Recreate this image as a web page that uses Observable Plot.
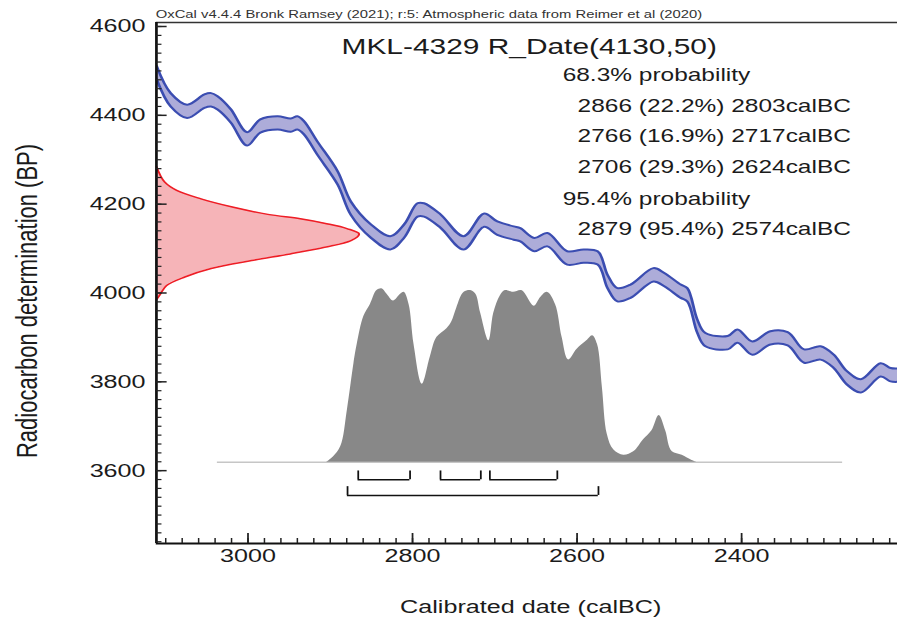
<!DOCTYPE html>
<html>
<head>
<meta charset="utf-8">
<script src="https://cdn.jsdelivr.net/npm/d3@7"></script>
<script src="https://cdn.jsdelivr.net/npm/@observablehq/plot@0.6"></script>
<style>
  html, body { margin: 0; padding: 0; background: #fff; overflow: hidden; }
  #chart svg { display: block; transform: scaleX(1.35909); transform-origin: 0 0; }
</style>
</head>
<body>
<div id="chart"></div>
<script>
// ---------- data ----------
// calibration curve (IntCal20) centre, calBC year vs BP
const calYear = [3111, 3094, 3074, 3053, 3045, 3037, 3021, 3001, 2985, 2964, 2948, 2940, 2932, 2916, 2891, 2875, 2851, 2827, 2810, 2794, 2786, 2766, 2738, 2713, 2697, 2677, 2669, 2652, 2636, 2612, 2592, 2575, 2563, 2551, 2535, 2507, 2494, 2474, 2466, 2454, 2444, 2417, 2405, 2387, 2365, 2344, 2324, 2304, 2288, 2272, 2255, 2231, 2219, 2210];
const calBP   = [4496, 4435, 4409, 4432, 4435, 4428, 4399, 4347, 4376, 4383, 4378, 4383, 4372, 4327, 4259, 4191, 4140, 4113, 4140, 4187, 4187, 4162, 4113, 4164, 4146, 4135, 4131, 4109, 4120, 4079, 4083, 4079, 4026, 3996, 4004, 4041, 4030, 4004, 3996, 3926, 3895, 3888, 3903, 3876, 3899, 3897, 3858, 3865, 3846, 3809, 3791, 3827, 3816, 3815];
const calSigma = 15;

// radiocarbon date R_Date(4130,50): BP vs relative probability
const rdBP   = [4285, 4250, 4231, 4212, 4193, 4177, 4167, 4156, 4145, 4133, 4118, 4103, 4088, 4073, 4055, 4036, 4017, 3998, 3985];
const rdProb = [0, 0.04, 0.10, 0.22, 0.38, 0.55, 0.71, 0.84, 0.94, 1.0, 0.96, 0.83, 0.66, 0.47, 0.27, 0.14, 0.05, 0.02, 0];

// calibrated distribution: calBC year vs relative probability
const postYear = [2904, 2896, 2887, 2879, 2871, 2867, 2859, 2851, 2843, 2837, 2831, 2823, 2814, 2810, 2804, 2798, 2788, 2778, 2770, 2758, 2752, 2746, 2737, 2729, 2723, 2717, 2707, 2701, 2693, 2687, 2677, 2667, 2652, 2644, 2636, 2626, 2618, 2610, 2600, 2588, 2581, 2575, 2569, 2563, 2555, 2543, 2531, 2519, 2509, 2500, 2492, 2484, 2472, 2460, 2454];
const postProb = [0, 0.03, 0.09, 0.30, 0.57, 0.68, 0.84, 0.91, 0.99, 1.0, 0.97, 0.93, 0.97, 0.98, 0.91, 0.68, 0.45, 0.61, 0.72, 0.77, 0.81, 0.89, 0.98, 0.99, 0.97, 0.86, 0.70, 0.86, 0.96, 0.99, 0.98, 0.99, 0.90, 0.95, 0.98, 0.91, 0.72, 0.59, 0.65, 0.70, 0.73, 0.68, 0.43, 0.16, 0.07, 0.04, 0.06, 0.13, 0.18, 0.27, 0.18, 0.06, 0.04, 0.01, 0];
const postRange = [3037, 2277];

// highest probability ranges
const ranges68 = [[2866, 2803], [2766, 2717], [2706, 2624]];
const ranges95 = [[2879, 2574]];

// ticks
const xMajor = [3000, 2800, 2600, 2400];
const yMajor = [3600, 3800, 4000, 4200, 4400, 4600];

// texts
const headerText = "OxCal v4.4.4 Bronk Ramsey (2021); r:5: Atmospheric data from Reimer et al (2020)";
const titleText = "MKL-4329 R_Date(4130,50)";
const statLines = ["68.3% probability", "2866 (22.2%) 2803calBC", "2766 (16.9%) 2717calBC", "2706 (29.3%) 2624calBC", "95.4% probability", "2879 (95.4%) 2574calBC"];
const statIndent = [false, true, true, true, false, true];
const xLabel = "Calibrated date (calBC)";
const yLabel = "Radiocarbon determination (BP)";

// ---------- layout (unstretched space; whole svg is stretched horizontally) ----------
const W = 660, H = 628, mL = 114.6, mR = 0, mT = 22, mB = 85;
const xDom = [3111.3, 2210.3], yDom = [3436, 4609];
const pxPerBP = (H - mT - mB) / (yDom[1] - yDom[0]);
const pxPerYr = (W - mL - mR) / (xDom[0] - xDom[1]);
const frameW = W - mL - mR, frameH = H - mT - mB;

const baseBP = 3619;                     // baseline of the calibrated distribution
const postHeightBP = 173.4 / pxPerBP;    // height of max probability
const redPeakYr = 149.1 / pxPerYr;       // width of R_Date peak
const lvl68 = 3600 - 9.1 / pxPerBP;
const lvl95 = 3600 - 24.8 / pxPerBP;
const brTick = 8.8 / pxPerBP;

const cal = calYear.map((y, i) => ({year: y, bp: calBP[i]}));
const rd = rdBP.map((b, i) => ({bp: b, p: rdProb[i]}));
const post = postYear.map((y, i) => ({year: y, p: postProb[i]}));

const xMinor = d3.range(3100, 2200, -20);
const yMinor = d3.range(3440, 4610, 20);

const txt = "#1b1b1b";
const font = "'Liberation Sans', Arial, Helvetica, sans-serif";

const statMarks = statLines.map((s, i) => Plot.text([s], {
  frameAnchor: "top-left", text: d => d,
  dx: statIndent[i] ? 309.9 : 298.9, dy: [53, 84, 114, 145, 177, 207][i],
  textAnchor: "start", lineAnchor: "middle", fontSize: 18, fill: txt
}));

const chart = Plot.plot({
  width: W, height: H,
  marginLeft: mL, marginRight: mR, marginTop: mT, marginBottom: mB,
  x: {domain: xDom, axis: null},
  y: {domain: yDom, axis: null},
  style: {fontFamily: font, background: "white", overflow: "visible"},
  marks: [
    // calibration curve band
    Plot.areaY(cal, {x: "year", y1: d => d.bp - calSigma, y2: d => d.bp + calSigma, fill: "#adacd9", curve: "catmull-rom", clip: true}),
    Plot.line(cal, {x: "year", y: d => d.bp + calSigma, stroke: "#3b4db1", strokeWidth: 2, curve: "catmull-rom", clip: true}),
    Plot.line(cal, {x: "year", y: d => d.bp - calSigma, stroke: "#3b4db1", strokeWidth: 2, curve: "catmull-rom", clip: true}),
    // calibrated distribution
    Plot.ruleY([baseBP], {x1: postRange[0], x2: postRange[1], stroke: "#c6c6c6", strokeWidth: 1.5}),
    Plot.areaY(post, {x: "year", y1: baseBP, y2: d => baseBP + d.p * postHeightBP, fill: "#888888", curve: "catmull-rom"}),
    // radiocarbon date
    Plot.areaX(rd, {y: "bp", x1: xDom[0], x2: d => xDom[0] - d.p * redPeakYr, fill: "#f6b4b8", curve: "catmull-rom"}),
    Plot.line(rd, {x: d => xDom[0] - d.p * redPeakYr, y: "bp", stroke: "#ee1d25", strokeWidth: 1.5, curve: "catmull-rom"}),
    // range brackets
    Plot.ruleY(ranges68, {x1: d => d[0], x2: d => d[1], y: lvl68, stroke: "#111", strokeWidth: 1.6}),
    Plot.ruleX(ranges68.flat(), {x: d => d, y1: lvl68, y2: lvl68 + brTick, stroke: "#111", strokeWidth: 1.3}),
    Plot.ruleY(ranges95, {x1: d => d[0], x2: d => d[1], y: lvl95, stroke: "#111", strokeWidth: 1.6}),
    Plot.ruleX(ranges95.flat(), {x: d => d, y1: lvl95, y2: lvl95 + brTick, stroke: "#111", strokeWidth: 1.3}),
    // frame / axes
    Plot.ruleY([yDom[1]], {stroke: "#333", strokeWidth: 1.6}),
    Plot.ruleX([xDom[0]], {stroke: "#111", strokeWidth: 2}),
    Plot.ruleY([yDom[0]], {stroke: "#111", strokeWidth: 2}),
    Plot.ruleX(xMinor, {x: d => d, insetTop: frameH - 5, stroke: "#222", strokeWidth: 1.1}),
    Plot.ruleX(xMajor, {x: d => d, insetTop: frameH - 10, stroke: "#222", strokeWidth: 1.3}),
    Plot.ruleY(yMinor, {y: d => d, insetRight: frameW - 4.2, stroke: "#222", strokeWidth: 1.2}),
    Plot.ruleY(yMajor, {y: d => d, insetRight: frameW - 8, stroke: "#222", strokeWidth: 1.5}),
    // tick labels
    Plot.text(xMajor, {x: d => d, frameAnchor: "bottom", dy: 13, text: d => String(d), textAnchor: "middle", lineAnchor: "middle", fontSize: 18.5, fill: txt}),
    Plot.text(yMajor, {y: d => d, frameAnchor: "left", dx: -8, text: d => String(d), textAnchor: "end", lineAnchor: "middle", fontSize: 18.5, fill: txt}),
    // axis labels
    Plot.text([xLabel], {frameAnchor: "bottom", dx: 2.7, dy: 64, text: d => d, textAnchor: "middle", lineAnchor: "middle", fontSize: 18.5, fill: txt}),
    Plot.text([yLabel], {frameAnchor: "left", dx: -94.7, dy: 18, rotate: -90, text: d => d, textAnchor: "middle", lineAnchor: "middle", fontSize: 22, fill: txt}),
    // header and title
    Plot.text([headerText], {frameAnchor: "top-left", dx: -0.5, dy: -8, text: d => d, textAnchor: "start", lineAnchor: "middle", fontSize: 10.9, fill: "#333"}),
    Plot.text([titleText], {frameAnchor: "top-left", dx: 274.3, dy: 24, text: d => d, textAnchor: "middle", lineAnchor: "middle", fontSize: 22, fill: txt}),
    ...statMarks
  ]
});
document.getElementById("chart").appendChild(chart);
</script>
</body>
</html>
